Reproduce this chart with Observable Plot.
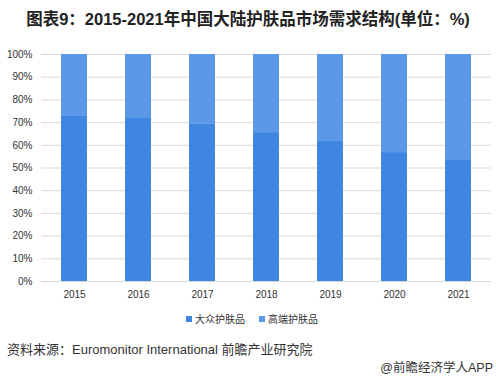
<!DOCTYPE html>
<html>
<head>
<meta charset="utf-8">
<script src="https://cdn.jsdelivr.net/npm/d3@7"></script>
<script src="https://cdn.jsdelivr.net/npm/@observablehq/plot@0.6"></script>
<style>
  body { margin: 0; background: #fff; width: 496px; height: 379px; position: relative; overflow: hidden;
         font-family: "Liberation Sans", "Noto Sans CJK SC", sans-serif; }
  #title { position: absolute; left: 0; top: 6px; width: 496px; text-align: center; font-size: 16.5px; font-weight: bold; color: #222; }
  #chart { position: absolute; left: 0; top: 40px; }
  #legend { position: absolute; top: 311px; left: 0; width: 496px; font-size: 10px; color: #333; }
  .li { position: absolute; display: flex; align-items: center; }
  .sw { width: 6px; height: 6px; margin-right: 3px; }
  #source { position: absolute; left: 7px; top: 339px; font-size: 13px; color: #333; white-space: nowrap; }
  #credit { position: absolute; right: 3px; top: 357px; font-size: 12.5px; color: #333; white-space: nowrap; }
</style>
</head>
<body>
<div id="title">图表9：2015-2021年中国大陆护肤品市场需求结构(单位：%)</div>
<div id="chart"></div>
<div id="legend"></div>
<div id="source">资料来源：Euromonitor International 前瞻产业研究院</div>
<div id="credit">@前瞻经济学人APP</div>
<script>
const years = ["2015", "2016", "2017", "2018", "2019", "2020", "2021"];
const massShare = [72.7, 71.8, 69.2, 65.6, 61.7, 56.8, 53.3];
const premiumShare = [27.3, 28.2, 30.8, 34.4, 38.3, 43.2, 46.7];
const seriesNames = ["大众护肤品", "高端护肤品"];
const seriesColors = ["#3f86e3", "#5b98e8"];
const yTicks = [0, 10, 20, 30, 40, 50, 60, 70, 80, 90, 100];

const data = [];
years.forEach((y, i) => {
  data.push({year: y, series: seriesNames[0], value: massShare[i]});
  data.push({year: y, series: seriesNames[1], value: premiumShare[i]});
});

const chart = Plot.plot({
  width: 496,
  height: 265,
  marginLeft: 41,
  marginRight: 5,
  marginTop: 14,
  marginBottom: 24,
  style: {fontFamily: '"Liberation Sans", "Noto Sans CJK SC", sans-serif', fontSize: "10px", color: "#333", background: "transparent"},
  x: {domain: years, paddingInner: 0.6, paddingOuter: 0.3, label: null, tickSize: 0, tickPadding: 9},
  y: {domain: [0, 100], ticks: yTicks, tickFormat: d => d + "%", label: null, tickSize: 0, tickPadding: 9},
  color: {domain: seriesNames, range: seriesColors},
  marks: [
    Plot.gridY(yTicks, {stroke: "#d9d9d9", strokeOpacity: 1, strokeWidth: 1}),
    Plot.barY(data, {x: "year", y: "value", fill: "series", order: seriesNames}),
    Plot.axisX({tickSize: 0, tickPadding: 9, fill: "#333"}),
    Plot.axisY(yTicks, {tickSize: 0, tickPadding: 9, tickFormat: d => d + "%", fill: "#333"})
  ]
});
document.getElementById("chart").appendChild(chart);

const legend = document.getElementById("legend");
const legendX = [186, 259];
seriesNames.forEach((name, i) => {
  const item = document.createElement("div");
  item.className = "li";
  item.style.left = legendX[i] + "px";
  const sw = document.createElement("span");
  sw.className = "sw";
  sw.style.background = seriesColors[i];
  const t = document.createElement("span");
  t.textContent = name;
  item.appendChild(sw);
  item.appendChild(t);
  legend.appendChild(item);
});
</script>
</body>
</html>
